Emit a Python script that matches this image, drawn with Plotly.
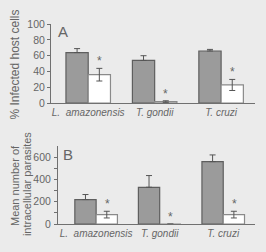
import plotly.graph_objects as go

categories = ["L. amazonensis", "T. gondii", "T. cruzi"]
cat_labels = ["<i>L.  amazonensis</i>", "<i>T. gondii</i>", "<i>T. cruzi</i>"]

# Panel A: % infected host cells
a_ctrl = [64, 54, 66]
a_ctrl_err = [5, 6, 2]
a_treat = [36, 2, 23]
a_treat_err = [8, 1, 7]

# Panel B: mean number of intracellular parasites
b_ctrl = [220, 330, 560]
b_ctrl_err = [45, 105, 60]
b_treat = [85, 0, 85]
b_treat_err = [30, 0, 30]

TXT = "#666666"
AX = "#707070"
BG = "#ebebeb"
FONT = "Liberation Sans, Arial, sans-serif"

fig = go.Figure()

def add_panel(ctrl, cerr, treat, terr, xa, ya):
    fig.add_trace(go.Bar(
        x=categories, y=ctrl, xaxis=xa, yaxis=ya, offsetgroup="c",
        marker=dict(color="#9b9b9b", line=dict(color="#5e5e5e", width=1.2)),
        error_y=dict(type="data", array=cerr, arrayminus=[0]*len(cerr), symmetric=False,
                     color="#555555", thickness=1, width=3),
        showlegend=False))
    fig.add_trace(go.Bar(
        x=categories, y=treat, xaxis=xa, yaxis=ya, offsetgroup="t",
        marker=dict(color="#ffffff", line=dict(color="#8a8a8a", width=1.2)),
        error_y=dict(type="data", array=terr, symmetric=True,
                     color="#555555", thickness=1, width=3),
        showlegend=False))

add_panel(a_ctrl, a_ctrl_err, a_treat, a_treat_err, "x", "y")
add_panel(b_ctrl, b_ctrl_err, b_treat, b_treat_err, "x2", "y2")

# asterisks above treated bars
for i, c in enumerate(categories):
    fig.add_annotation(x=c, y=a_treat[i] + a_treat_err[i], xref="x", yref="y",
                       text="*", showarrow=False, xshift=11, yshift=7,
                       font=dict(size=12, color=TXT, family=FONT))
    fig.add_annotation(x=c, y=b_treat[i] + b_treat_err[i], xref="x2", yref="y2",
                       text="*", showarrow=False, xshift=11, yshift=7,
                       font=dict(size=12, color=TXT, family=FONT))

# panel letters
fig.add_annotation(x=56/266, y=1-16/252, xref="paper", yref="paper", text="A",
                   showarrow=False, xanchor="left", yanchor="top",
                   font=dict(size=15, color=TXT, family=FONT))
fig.add_annotation(x=61/266, y=1-145/252, xref="paper", yref="paper", text="B",
                   showarrow=False, xanchor="left", yanchor="top",
                   font=dict(size=15, color=TXT, family=FONT))

# axis titles
def vtitle(text, x, y, size):
    fig.add_annotation(x=x/266, y=1-y/252, xref="paper", yref="paper",
                       text=text, textangle=-90, showarrow=False,
                       xanchor="center", yanchor="middle", borderpad=0,
                       font=dict(size=size, color=TXT, family=FONT))

vtitle("% Infected host cells", 15.5, 62, 12)
vtitle("Mean number of", 14.5, 188.5, 11)
vtitle("intracellular parasites", 26.5, 187.5, 11)

xcommon = dict(type="category", showline=True, linecolor=AX, linewidth=1,
               ticks="", tickfont=dict(size=10, color=TXT, family=FONT),
               tickvals=categories, ticktext=cat_labels, fixedrange=True)
ycommon = dict(showline=True, linecolor=AX, linewidth=1, ticks="outside",
               ticklen=3, tickcolor=AX, showgrid=False, zeroline=False,
               tickfont=dict(size=10.5, color=TXT, family=FONT))

fig.update_layout(
    width=266, height=252,
    margin=dict(l=0, r=0, t=0, b=0),
    paper_bgcolor=BG, plot_bgcolor=BG,
    barmode="group", bargap=0.33, bargroupgap=0,
    font=dict(family=FONT, color=TXT),
    xaxis=dict(domain=[51/266, 255/266], range=[-0.56, 2.51], anchor="y", **xcommon),
    yaxis=dict(domain=[1-102/252, 1-19/252], range=[0, 100], anchor="x",
               tickvals=[0, 20, 40, 60, 80, 100], **ycommon),
    xaxis2=dict(domain=[58/266, 255/266], range=[-0.6, 2.5], anchor="y2", **xcommon),
    yaxis2=dict(domain=[1-229/252, 1-147/252], range=[0, 700], anchor="x2",
                tickvals=[0, 200, 400, 600], ticklabelstandoff=1,
                minor=dict(tickvals=[100, 300, 500], ticks="outside", ticklen=3, tickcolor=AX),
                **ycommon),
)

fig.write_html("out.html")
